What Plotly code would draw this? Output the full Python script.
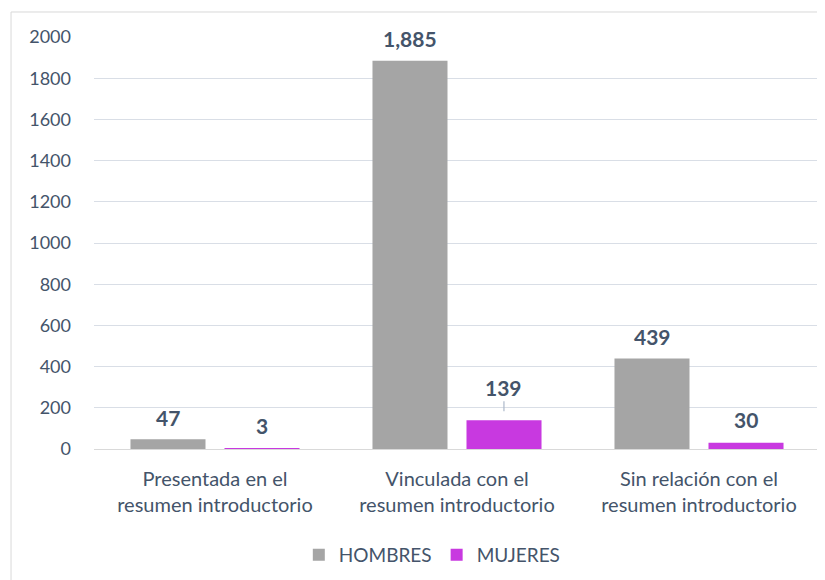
import plotly.graph_objects as go

categories = ["Presentada en el<br>resumen introductorio",
              "Vinculada con el<br>resumen introductorio",
              "Sin relación con el<br>resumen introductorio"]
hombres = [47, 1885, 439]
mujeres = [3, 139, 30]
hombres_labels = ["47", "1,885", "439"]
mujeres_labels = ["3", "139", "30"]
tick_vals = [0, 200, 400, 600, 800, 1000, 1200, 1400, 1600, 1800, 2000]

GRAY = "#A5A5A5"
MAG = "#C839E0"
TXT = "#44546A"
FONT = "Lato"

fig = go.Figure()
fig.add_trace(go.Bar(name="HOMBRES", x=categories, y=hombres, marker_color=GRAY,
                     marker_line_width=0))
fig.add_trace(go.Bar(name="MUJERES", x=categories, y=mujeres, marker_color=MAG,
                     marker_line_width=0))

off = 0.194
lab_font = dict(family=FONT, size=21, color=TXT, weight="bold")
anns = []
for i, (v, t) in enumerate(zip(hombres, hombres_labels)):
    anns.append(dict(x=i - off, y=v, xref="x", yref="y", text=t, showarrow=False,
                     yanchor="middle", yshift=22, font=lab_font))
for i, (v, t) in enumerate(zip(mujeres, mujeres_labels)):
    if v == max(mujeres):
        anns.append(dict(x=i + off, y=v, xref="x", yref="y", text=t, showarrow=True,
                         arrowhead=0, arrowwidth=1.2, arrowcolor="#ADB9CA", ax=0, ay=-33,
                         standoff=9, font=lab_font))
    else:
        anns.append(dict(x=i + off, y=v, xref="x", yref="y", text=t, showarrow=False,
                         yanchor="middle", yshift=23, font=lab_font))

fig.update_layout(
    width=817, height=572,
    margin=dict(l=86, r=5, t=29, b=131),
    paper_bgcolor="white", plot_bgcolor="white",
    barmode="group", bargap=0.223, bargroupgap=0.202,
    font=dict(family=FONT, color=TXT, size=16),
    showlegend=True,
    legend=dict(orientation="h", x=0.466, xanchor="center", y=-0.257, yanchor="middle",
                font=dict(family=FONT, size=19, color=TXT), itemwidth=30,
                traceorder="normal"),
    annotations=anns,
    shapes=[dict(type="rect", xref="paper", yref="paper",
                 x0=-0.1143, x1=1.02, y0=-0.5, y1=1.0607,
                 line=dict(color="#D9D9D9", width=1), fillcolor="rgba(0,0,0,0)",
                 layer="below")],
)
fig.update_xaxes(showgrid=False, showline=True, linecolor="#D9D9D9", linewidth=1,
                 tickfont=dict(family=FONT, size=20, color=TXT), ticks="",
                 ticklabelstandoff=12)
fig.update_yaxes(range=[0, 2000], tickvals=tick_vals, showgrid=True,
                 gridcolor="#D9DEE6", gridwidth=1, zeroline=False, showline=False,
                 tickfont=dict(family=FONT, size=18, color=TXT), ticks="",
                 ticklabelstandoff=22)

fig.write_html("out.html")
